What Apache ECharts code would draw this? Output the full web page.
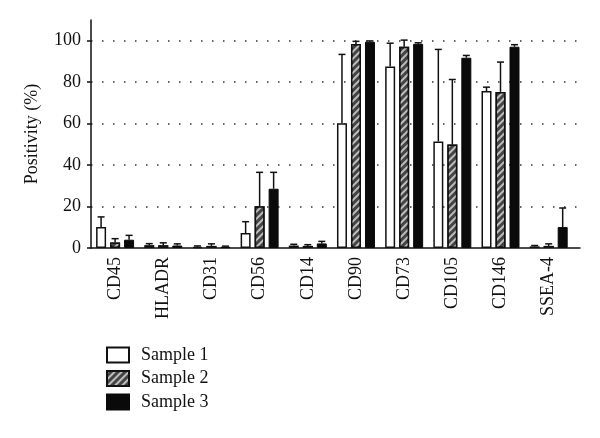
<!DOCTYPE html>
<html>
<head>
<meta charset="utf-8">
<script src="https://cdn.jsdelivr.net/npm/echarts@6/dist/echarts.min.js"></script>
<style>html,body{margin:0;padding:0;background:#fff;}#c{width:600px;height:438px;}</style>
</head>
<body>
<div id="c"></div>
<script>
const categories = ['CD45','HLADR','CD31','CD56','CD14','CD90','CD73','CD105','CD146','SSEA-4'];
const seriesNames = ['Sample 1','Sample 2','Sample 3'];
const sample1 = [10.1, 1.4, 0.6, 7.2, 1.2, 60.2, 87.6, 51.4, 75.7, 0.8];
const sample2 = [2.7, 1.3, 1.0, 20.1, 1.0, 98.4, 97.1, 49.9, 75.3, 1.0];
const sample3 = [4.0, 1.2, 0.6, 28.6, 2.2, 99.5, 98.5, 91.8, 97.1, 10.1];
const err1 = [4.9, 0.7, 0.4, 5.5, 0.6, 33.2, 11.2, 44.4, 1.9, 0.4];
const err2 = [1.8, 1.2, 1.0, 16.4, 0.6, 1.3, 3.2, 31.4, 14.4, 1.0];
const err3 = [2.1, 0.8, 0.3, 7.9, 1.0, 0.4, 0.5, 1.1, 1.0, 9.2];
const yTicks = [0, 20, 40, 60, 80, 100];

const FONT = 'Liberation Serif';
const chart = echarts.init(document.getElementById('c'));

function barSeries(name, vals, style) {
  return {
    name: name, type: 'bar', barWidth: 10, barGap: '40%',
    data: vals.map((v, i) => [i, v]),
    itemStyle: style,
    z: 2
  };
}
function errSeries(vals, errs, offset) {
  return {
    type: 'custom', silent: true, z: 5,
    data: vals.map((v, i) => [i, v, v + errs[i]]),
    encode: { x: 0, y: [1, 2] },
    renderItem: function (params, api) {
      const b = api.coord([api.value(0), api.value(1)]);
      const t = api.coord([api.value(0), api.value(2)]);
      const cx = b[0] + offset;
      return {
        type: 'group',
        children: [
          { type: 'line', shape: { x1: cx, y1: b[1], x2: cx, y2: t[1] }, style: { stroke: '#111', lineWidth: 1.5 } },
          { type: 'line', shape: { x1: cx - 3.5, y1: t[1], x2: cx + 3.5, y2: t[1] }, style: { stroke: '#111', lineWidth: 1.5 } }
        ]
      };
    }
  };
}

const s1 = barSeries(seriesNames[0], sample1, { color: '#fff', borderColor: '#111', borderWidth: 1.5 });
s1.markLine = {
  silent: true, symbol: 'none', label: { show: false },
  lineStyle: { color: '#333', type: [1.5, 9.5], width: 1.5 },
  data: yTicks.filter(v => v > 0).map(v => ({ yAxis: v })),
  z: 0
};
const s2 = barSeries(seriesNames[1], sample2, {
  color: '#444', borderColor: '#111', borderWidth: 1.5,
  decal: { symbol: 'rect', symbolSize: 1, dashArrayX: [1, 0], dashArrayY: [1.2, 2.2], rotation: -Math.PI / 4, color: '#bdbdbd' }
});
const s3 = barSeries(seriesNames[2], sample3, { color: '#0a0a0a', borderColor: '#0a0a0a', borderWidth: 1 });

chart.setOption({
  animation: false,
  backgroundColor: '#fff',
  grid: { left: 91, right: 20, top: 20, bottom: 190 },
  legend: {
    data: seriesNames, orient: 'vertical', left: 101, top: 341, icon: 'rect',
    itemWidth: 22, itemHeight: 15, itemGap: 5.5,
    textStyle: { fontFamily: FONT, fontSize: 18, color: '#111', padding: [0, 0, 0, 7] }
  },
  xAxis: {
    type: 'value', min: -0.5, max: 9.65,
    axisLine: { show: true, onZero: false, lineStyle: { color: '#111', width: 1.5 } },
    axisTick: { show: false },
    splitLine: { show: false },
    axisLabel: {
      customValues: categories.map((c, i) => i),
      formatter: v => categories[Math.round(v)] || '',
      rotate: 90, margin: 9,
      fontFamily: FONT, fontSize: 18, color: '#111'
    }
  },
  yAxis: {
    type: 'value', min: 0, max: 110,
    name: 'Positivity (%)', nameLocation: 'middle', nameGap: 50,
    nameTextStyle: { fontFamily: FONT, fontSize: 18, color: '#111' },
    axisLine: { show: true, onZero: false, lineStyle: { color: '#111', width: 1.5 } },
    axisTick: { show: true, customValues: yTicks, length: 4, lineStyle: { color: '#111', width: 1.5 } },
    splitLine: { show: false },
    axisLabel: { customValues: yTicks, margin: 10, fontFamily: FONT, fontSize: 18, color: '#111' }
  },
  series: [s1, s2, s3, errSeries(sample1, err1, -14), errSeries(sample2, err2, 0), errSeries(sample3, err3, 14)]
});
</script>
</body>
</html>
